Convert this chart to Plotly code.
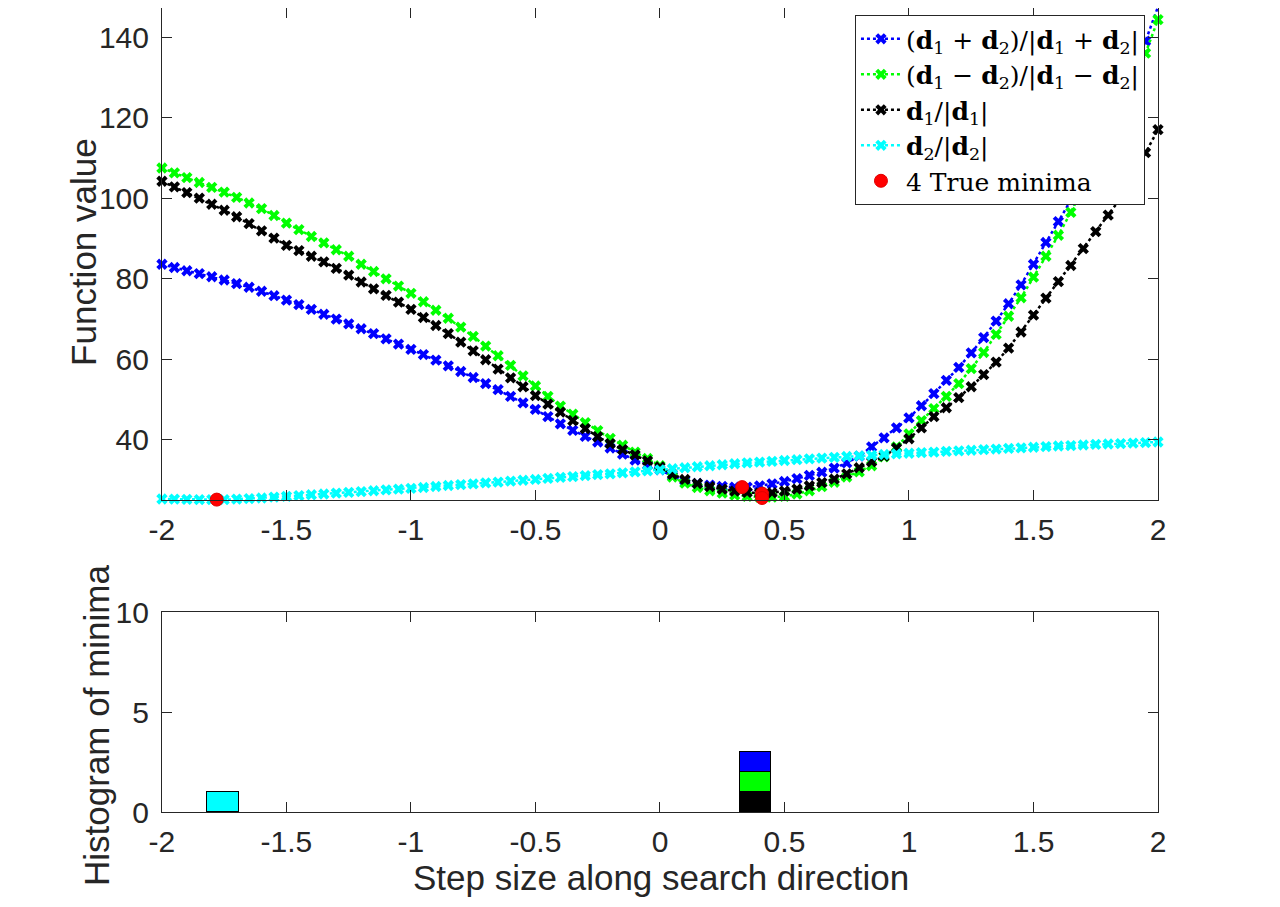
import numpy as np
import plotly.graph_objects as go

# step sizes along the search direction
step = np.linspace(-2, 2, 81)

# function value along each search direction
f_sum = [83.6, 82.8, 82.0, 81.3, 80.5, 79.7, 78.8, 77.9, 76.9, 75.8,
         74.7, 73.6, 72.4, 71.2, 70.0, 68.8, 67.6, 66.4, 65.1, 63.8,
         62.5, 61.2, 59.8, 58.4, 57.0, 55.5, 54.0, 52.5, 50.8, 49.2,
         47.6, 45.8, 44.0, 42.4, 40.9, 39.5, 38.0, 36.5, 35.0, 33.8,
         32.6, 31.0, 29.9, 29.2, 28.8, 28.5, 28.3, 28.3, 28.6, 29.1,
         29.7, 30.4, 31.2, 32.0, 33.0, 34.3, 36.0, 38.3, 40.5, 43.0,
         45.5, 48.5, 51.5, 54.8, 58.0, 61.6, 65.4, 69.5, 73.8, 78.5,
         83.6, 89.0, 94.2, 99.5, 105.5, 111.8, 118.3, 124.8, 131.5, 139.0,
         147.5]
f_diff = [107.5, 106.3, 105.1, 103.9, 102.7, 101.5, 100.2, 98.8, 97.4, 95.7,
          93.8, 92.2, 90.5, 88.9, 87.2, 85.6, 83.6, 81.8, 80.0, 78.2,
          76.4, 74.3, 72.2, 70.2, 68.0, 65.7, 63.3, 60.9, 58.5, 55.9,
          53.4, 50.8, 48.4, 46.4, 44.3, 42.3, 40.4, 38.7, 37.0, 35.4,
          33.6, 30.8, 29.3, 28.2, 27.4, 26.8, 26.3, 26.0, 25.8, 25.8,
          26.0, 26.6, 27.4, 28.4, 29.5, 30.8, 32.1, 33.6, 35.8, 38.3,
          41.5, 44.8, 47.8, 50.8, 54.0, 57.7, 61.7, 66.2, 70.7, 75.3,
          80.4, 85.6, 90.8, 96.5, 102.5, 108.5, 114.7, 121.2, 128.0, 136.0,
          144.3]
f_d1 = [104.2, 102.8, 101.4, 100.0, 98.5, 97.0, 95.4, 93.7, 91.9, 90.1,
        88.3, 87.0, 85.6, 84.2, 82.6, 80.9, 79.2, 77.5, 75.9, 74.2,
        72.4, 70.4, 68.4, 66.4, 64.3, 62.1, 59.9, 57.6, 55.4, 53.2,
        51.0, 48.9, 46.9, 44.8, 42.8, 40.8, 39.1, 37.6, 36.3, 34.8,
        33.3, 31.5, 30.2, 29.2, 28.4, 27.8, 27.3, 27.0, 26.8, 26.9,
        27.3, 27.8, 28.6, 29.4, 30.3, 31.6, 33.1, 34.6, 36.0, 38.0,
        40.3, 43.0, 45.8, 48.0, 50.5, 53.2, 56.2, 59.3, 62.8, 66.8,
        71.0, 75.2, 79.3, 83.3, 87.5, 91.7, 95.8, 100.0, 105.5, 111.3,
        117.0]
f_d2 = [25.35, 25.3, 25.25, 25.2, 25.2, 25.2, 25.3, 25.45, 25.6, 25.8,
        26.0, 26.2, 26.4, 26.6, 26.8, 27.0, 27.2, 27.4, 27.6, 27.8,
        28.0, 28.2, 28.45, 28.7, 28.9, 29.1, 29.35, 29.55, 29.8, 30.0,
        30.2, 30.45, 30.7, 30.9, 31.15, 31.4, 31.6, 31.85, 32.1, 32.35,
        32.6, 32.85, 33.1, 33.35, 33.6, 33.85, 34.1, 34.3, 34.5, 34.7,
        34.9, 35.1, 35.3, 35.5, 35.7, 35.9, 36.05, 36.2, 36.4, 36.55,
        36.7, 36.85, 37.0, 37.15, 37.3, 37.45, 37.6, 37.75, 37.9, 38.05,
        38.2, 38.35, 38.5, 38.6, 38.75, 38.9, 39.0, 39.1, 39.2, 39.35,
        39.5]

# true minima
min_x = [-1.78, 0.33, 0.41, 0.41]
min_y = [25.2, 28.3, 26.7, 25.6]

# histogram of minima (bin centres and counts per direction)
bin_centres = [-1.755, 0.385]
bin_width = 0.125
cnt_d1 = [0, 1]
cnt_diff = [0, 1]
cnt_sum = [0, 1]
cnt_d2 = [1, 0]

x_ticks = [-2, -1.5, -1, -0.5, 0, 0.5, 1, 1.5, 2]
x_ticktext = ["-2", "-1.5", "-1", "-0.5", "0", "0.5", "1", "1.5", "2"]

lbl_sum = "(<b>d</b><sub>1</sub> + <b>d</b><sub>2</sub>)/|<b>d</b><sub>1</sub> + <b>d</b><sub>2</sub>|"
lbl_diff = "(<b>d</b><sub>1</sub> \u2212 <b>d</b><sub>2</sub>)/|<b>d</b><sub>1</sub> \u2212 <b>d</b><sub>2</sub>|"
lbl_d1 = "<b>d</b><sub>1</sub>/|<b>d</b><sub>1</sub>|"
lbl_d2 = "<b>d</b><sub>2</sub>/|<b>d</b><sub>2</sub>|"

BLUE = "#0000ff"
GREEN = "#00ff00"
BLACK = "#000000"
CYAN = "#00ffff"
AX = "#262626"

fig = go.Figure()

for vals, col, name in [(f_sum, BLUE, lbl_sum), (f_diff, GREEN, lbl_diff),
                        (f_d1, BLACK, lbl_d1), (f_d2, CYAN, lbl_d2)]:
    fig.add_trace(go.Scatter(
        x=step, y=vals, mode="lines+markers", name=name,
        line=dict(color=col, width=2.5, dash="dot"),
        marker=dict(symbol="x", size=10, color=col),
        cliponaxis=False, xaxis="x", yaxis="y"))

fig.add_trace(go.Scatter(
    x=min_x, y=min_y, mode="markers", name="4 True minima",
    marker=dict(symbol="circle", size=13, color="#ff0000",
                line=dict(color="#e00000", width=1)),
    cliponaxis=False, xaxis="x", yaxis="y"))

for cnt, col in [(cnt_d1, BLACK), (cnt_diff, GREEN), (cnt_sum, BLUE), (cnt_d2, CYAN)]:
    fig.add_trace(go.Bar(
        x=bin_centres, y=cnt, width=bin_width, showlegend=False,
        marker=dict(color=col, line=dict(color=BLACK, width=1)),
        xaxis="x2", yaxis="y2"))

axis_common = dict(showline=True, mirror="ticks", linecolor=AX, linewidth=1,
                   ticks="inside", ticklen=10, tickcolor=AX, showgrid=False,
                   zeroline=False, automargin=False,
                   tickfont=dict(family="Liberation Sans", size=30, color=AX))
title_font = dict(family="Liberation Sans", size=35, color=AX)

# the page body adds an 8px offset, so the figure is sized to fit the window
fig.update_layout(
    width=1264, height=891,
    margin=dict(l=0, r=0, t=0, b=0),
    paper_bgcolor="white", plot_bgcolor="white",
    barmode="stack", bargap=0,
    xaxis=dict(domain=[0.1218, 0.9098], range=[-2, 2], tickvals=x_ticks,
               ticktext=x_ticktext, anchor="y", ticklabelstandoff=3, **axis_common),
    yaxis=dict(domain=[0.4478, 1.0], range=[25.1, 147.2],
               tickvals=[40, 60, 80, 100, 120, 140], anchor="x", ticklabelstandoff=6,
               **axis_common),
    xaxis2=dict(domain=[0.1218, 0.9098], range=[-2, 2], tickvals=x_ticks,
                ticktext=x_ticktext, anchor="y2", ticklabelstandoff=3, **axis_common),
    yaxis2=dict(domain=[0.0976, 0.3221], range=[0, 10], tickvals=[0, 5, 10],
                anchor="x2", ticklabelstandoff=6, **axis_common),
    legend=dict(x=0.8995, y=0.9921, xanchor="right", yanchor="top",
                bgcolor="white", bordercolor=AX, borderwidth=1,
                font=dict(family="DejaVu Serif", size=25, color=BLACK),
                traceorder="normal", tracegroupgap=0, itemwidth=40),
    showlegend=True,
    annotations=[
        dict(text="Function value", textangle=-90, xref="paper", yref="paper",
             x=0.0601, y=0.7262, xanchor="center", yanchor="middle",
             showarrow=False, font=title_font),
        dict(text="Histogram of minima", textangle=-90, xref="paper", yref="paper",
             x=0.0704, y=0.1953, xanchor="center", yanchor="middle",
             showarrow=False, font=title_font),
        dict(text="Step size along search direction", xref="paper", yref="paper",
             x=0.5166, y=0.0236, xanchor="center", yanchor="middle",
             showarrow=False, font=title_font),
    ],
)

fig.write_html("out.html")
